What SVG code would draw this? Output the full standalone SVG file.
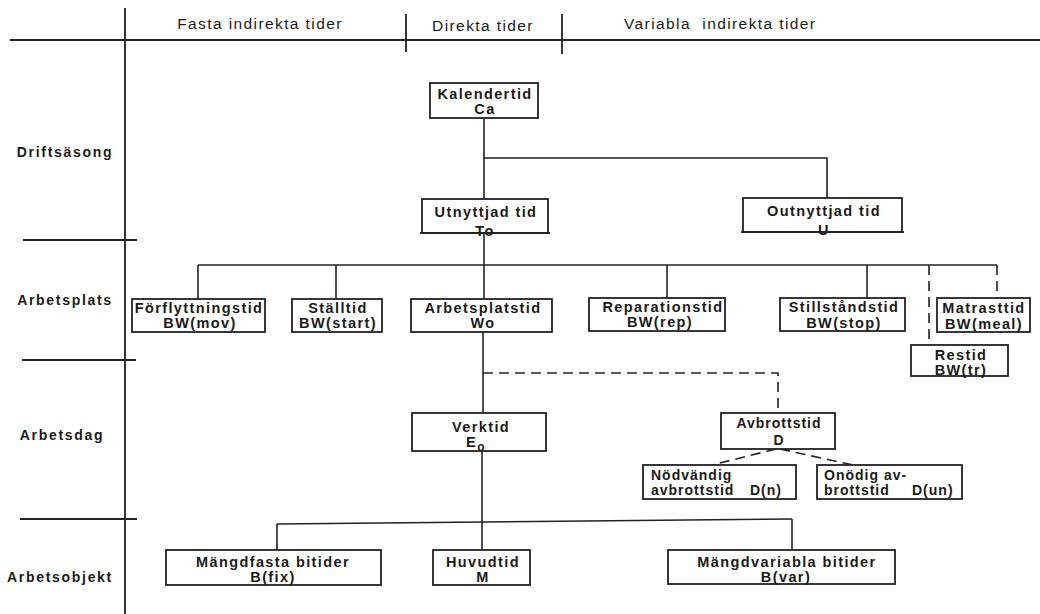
<svg xmlns="http://www.w3.org/2000/svg" width="1040" height="614" viewBox="0 0 1040 614">
<style>
.bg{fill:#fff}
.grid{stroke:#222;stroke-width:1.8;fill:none}
.box{fill:#fff;stroke:#222;stroke-width:1.8}
.con{stroke:#222;stroke-width:1.6;fill:none}
.dash{stroke:#222;stroke-width:1.6;fill:none;stroke-dasharray:10,6}
text{font-family:"Liberation Sans",Arial,sans-serif;fill:#1a1a1a}
.hd{font-size:15.5px;letter-spacing:1.4px}
.row{font-size:14px;letter-spacing:1.7px;text-anchor:middle;font-weight:bold}
.t{font-size:14.5px;letter-spacing:1.4px;text-anchor:middle;font-weight:bold}
.s{font-size:14px;letter-spacing:1px;font-weight:bold}
</style>
<rect class="bg" x="0" y="0" width="1040" height="614"/>
<g id="grid">
<line class="grid" x1="125" y1="8" x2="125" y2="614"/>
<line class="grid" x1="10" y1="40" x2="1040" y2="40"/>
<line class="grid" x1="406" y1="14" x2="406" y2="52"/>
<line class="grid" x1="562" y1="14" x2="562" y2="54"/>
<line class="grid" x1="23" y1="240" x2="137" y2="240"/>
<line class="grid" x1="22" y1="360" x2="136" y2="360"/>
<line class="grid" x1="20" y1="519" x2="137" y2="519"/>
<text class="hd" x="260" y="29" text-anchor="middle">Fasta indirekta tider</text>
<text class="hd" x="483" y="31" text-anchor="middle">Direkta tider</text>
<text class="hd" x="624" y="29" xml:space="preserve">Variabla  indirekta tider</text>
<text class="row" x="65" y="157">Driftsäsong</text>
<text class="row" x="65" y="305">Arbetsplats</text>
<text class="row" x="62" y="440">Arbetsdag</text>
<text class="row" x="60" y="582">Arbetsobjekt</text>
</g>
<g id="connectors">
<line class="con" x1="484" y1="118" x2="484" y2="199"/>
<polyline class="con" points="484,158 827,158 827,198"/>
<line class="con" x1="484" y1="233" x2="484" y2="299"/>
<line class="con" x1="198" y1="265" x2="997" y2="265"/>
<line class="con" x1="198" y1="265" x2="198" y2="299"/>
<line class="con" x1="336" y1="265" x2="336" y2="299"/>
<line class="con" x1="667" y1="265" x2="667" y2="298"/>
<line class="con" x1="867" y1="265" x2="867" y2="298"/>
<line class="dash" x1="929" y1="265" x2="929" y2="345"/>
<line class="dash" x1="997" y1="265" x2="997" y2="298"/>
<line class="con" x1="483" y1="332" x2="483" y2="413"/>
<polyline class="dash" points="483,373 778,373 778,413"/>
<line class="dash" x1="776" y1="449" x2="712" y2="465"/>
<line class="dash" x1="780" y1="449" x2="853" y2="465"/>
<line class="con" x1="482" y1="451" x2="482" y2="550"/>
<line class="con" x1="277" y1="524" x2="792" y2="519"/>
<line class="con" x1="277" y1="524" x2="277" y2="550"/>
<line class="con" x1="792" y1="519" x2="792" y2="550"/>
</g>
<g id="kalendertid">
<rect class="box" x="430" y="83" width="108" height="35"/>
<text class="t" x="485" y="99">Kalendertid</text>
<text class="t" x="485" y="114">Ca</text>
</g>
<g id="utnyttjad">
<rect class="box" x="422" y="199" width="126" height="34"/>
<text class="t" x="486" y="217">Utnyttjad tid</text>
<text class="t" x="485" y="236">To</text>
<rect x="420" y="232.1" width="130" height="1.8" fill="#222"/>
</g>
<g id="outnyttjad">
<rect class="box" x="743" y="198" width="159" height="34"/>
<text class="t" x="824" y="216">Outnyttjad tid</text>
<text class="t" x="824" y="235">U</text>
<rect x="741" y="231.1" width="163" height="1.8" fill="#222"/>
</g>
<g id="forflyttningstid">
<rect class="box" x="132" y="299" width="133" height="33"/>
<text class="t" x="199" y="313">Förflyttningstid</text>
<text class="t" x="200" y="328">BW(mov)</text>
</g>
<g id="stalltid">
<rect class="box" x="292" y="299" width="90" height="33"/>
<text class="t" x="338" y="313">Ställtid</text>
<text class="t" x="338" y="328">BW(start)</text>
</g>
<g id="arbetsplatstid">
<rect class="box" x="411" y="299" width="141" height="33"/>
<text class="t" x="483" y="313">Arbetsplatstid</text>
<text class="t" x="483" y="328">Wo</text>
</g>
<g id="reparationstid">
<rect class="box" x="589" y="298" width="136" height="33"/>
<text class="t" x="663" y="312">Reparationstid</text>
<text class="t" x="660" y="327">BW(rep)</text>
</g>
<g id="stillstandstid">
<rect class="box" x="780" y="298" width="125" height="33"/>
<text class="t" x="844" y="312">Stillståndstid</text>
<text class="t" x="844" y="328">BW(stop)</text>
</g>
<g id="matrasttid">
<rect class="box" x="937" y="298" width="93" height="34"/>
<text class="t" x="984" y="313">Matrasttid</text>
<text class="t" x="984" y="329">BW(meal)</text>
</g>
<g id="restid">
<rect class="box" x="911" y="345" width="97" height="31"/>
<text class="t" x="961" y="360">Restid</text>
<text class="t" x="961" y="375">BW(tr)</text>
</g>
<g id="verktid">
<rect class="box" x="412" y="413" width="134" height="38"/>
<text class="t" x="481" y="432">Verktid</text>
<text class="t" x="476" y="447">E<tspan font-size="12" dy="4">o</tspan></text>
</g>
<g id="avbrottstid">
<rect class="box" x="721" y="413" width="114" height="36"/>
<text class="s" x="779" y="428" text-anchor="middle">Avbrottstid</text>
<text class="s" x="779" y="445" text-anchor="middle">D</text>
</g>
<g id="nodvandig">
<rect class="box" x="643" y="465" width="153" height="34"/>
<text class="s" x="651" y="480">Nödvändig</text>
<text class="s" x="651" y="495">avbrottstid</text>
<text class="s" x="750" y="495">D(n)</text>
</g>
<g id="onodig">
<rect class="box" x="817" y="465" width="145" height="34"/>
<text class="s" x="824" y="480">Onödig av-</text>
<text class="s" x="824" y="495">brottstid</text>
<text class="s" x="912" y="495">D(un)</text>
</g>
<g id="mangdfasta">
<rect class="box" x="166" y="550" width="215" height="35"/>
<text class="t" x="273" y="567">Mängdfasta bitider</text>
<text class="t" x="273" y="582">B(fix)</text>
</g>
<g id="huvudtid">
<rect class="box" x="433" y="550" width="97" height="35"/>
<text class="t" x="483" y="567">Huvudtid</text>
<text class="t" x="483" y="582">M</text>
</g>
<g id="mangdvariabla">
<rect class="box" x="668" y="550" width="227" height="34"/>
<text class="t" x="787" y="567">Mängdvariabla bitider</text>
<text class="t" x="786" y="582">B(var)</text>
</g>
</svg>
